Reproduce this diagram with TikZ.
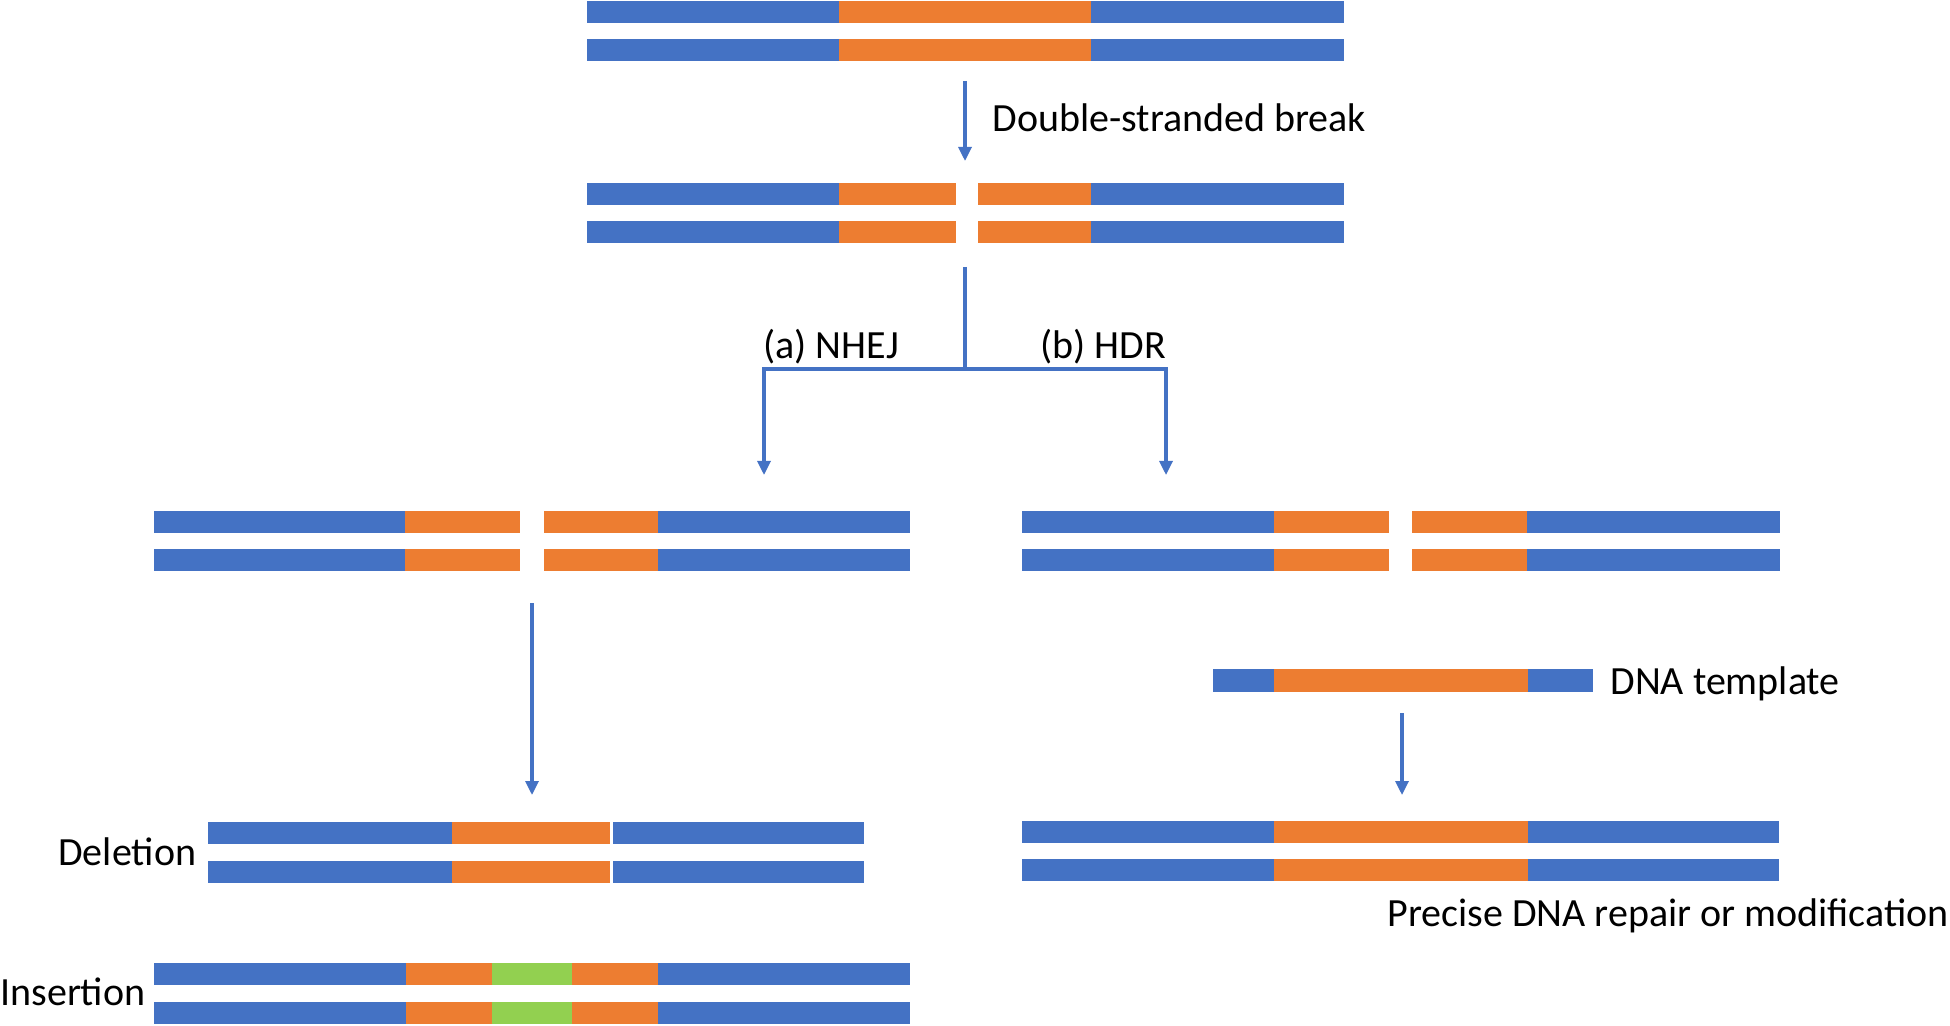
\documentclass[tikz,border=0pt]{standalone}
\usepackage{fontspec}
\setmainfont{Carlito}
\usetikzlibrary{arrows.meta}
\definecolor{dnablue}{HTML}{4472C4}
\definecolor{dnaorange}{HTML}{ED7D31}
\definecolor{dnagreen}{HTML}{92D050}
\tikzset{
  bl/.style={fill=dnablue},
  orng/.style={fill=dnaorange},
  grn/.style={fill=dnagreen},
  conn/.style={draw=dnablue, line width=1.6pt},
  arr/.style={conn, -{Triangle[length=7pt,width=6.5pt]}},
  lbl/.style={anchor=base west, inner sep=0pt, font=\fontsize{20pt}{24pt}\selectfont},
}
\begin{document}
\begin{tikzpicture}[x=0.5pt,y=-0.5pt]
\useasboundingbox (0,0) rectangle (1950,1026);
% row 1: intact DNA
\foreach \y in {1,39} {
  \fill[bl] (587,\y) rectangle (839,\y+22);
  \fill[orng] (839,\y) rectangle (1091,\y+22);
  \fill[bl] (1091,\y) rectangle (1344,\y+22);
}
% row 2: double-stranded break
\foreach \y in {183,221} {
  \fill[bl] (587,\y) rectangle (839,\y+22);
  \fill[orng] (839,\y) rectangle (956,\y+22);
  \fill[orng] (978,\y) rectangle (1091,\y+22);
  \fill[bl] (1091,\y) rectangle (1344,\y+22);
}
% row 3 left and right
\foreach \y in {511,549} {
  \fill[bl] (154,\y) rectangle (405,\y+22);
  \fill[orng] (405,\y) rectangle (520,\y+22);
  \fill[orng] (544,\y) rectangle (658,\y+22);
  \fill[bl] (658,\y) rectangle (910,\y+22);
  \fill[bl] (1022,\y) rectangle (1274,\y+22);
  \fill[orng] (1274,\y) rectangle (1389,\y+22);
  \fill[orng] (1412,\y) rectangle (1527,\y+22);
  \fill[bl] (1527,\y) rectangle (1780,\y+22);
}
% deletion
\foreach \y in {822,861} {
  \fill[bl] (208,\y) rectangle (452,\y+22);
  \fill[orng] (452,\y) rectangle (610,\y+22);
  \fill[bl] (613,\y) rectangle (864,\y+22);
}
% insertion
\foreach \y in {963,1002} {
  \fill[bl] (154,\y) rectangle (406,\y+22);
  \fill[orng] (406,\y) rectangle (492,\y+22);
  \fill[grn] (492,\y) rectangle (572,\y+22);
  \fill[orng] (572,\y) rectangle (658,\y+22);
  \fill[bl] (658,\y) rectangle (910,\y+22);
}
% template
\fill[bl] (1213,669) rectangle (1274,692);
\fill[orng] (1274,669) rectangle (1528,692);
\fill[bl] (1528,669) rectangle (1593,692);
% repaired
\foreach \y in {821,859} {
  \fill[bl] (1022,\y) rectangle (1274,\y+22);
  \fill[orng] (1274,\y) rectangle (1528,\y+22);
  \fill[bl] (1528,\y) rectangle (1779,\y+22);
}
% connector coordinates
\coordinate (a1s) at (965,81);
\coordinate (a1e) at (965,161);
\coordinate (stem) at (965,267);
\coordinate (junc) at (965,369);
\coordinate (nhej) at (764,475);
\coordinate (hdr) at (1166,475);
\coordinate (a3s) at (532,603);
\coordinate (a3e) at (532,795);
\coordinate (a4s) at (1402,713);
\coordinate (a4e) at (1402,795);
\draw[arr] (a1s) -- (a1e);
\draw[conn] (stem) -- (junc);
\draw[arr] (junc) -| (nhej);
\draw[arr] (junc) -| (hdr);
\draw[arr] (a3s) -- (a3e);
\draw[arr] (a4s) -- (a4e);
% labels
\node[lbl] (tdsb) at (992,132) {Double-stranded break};
\node[lbl] (tnhej) at (763,359) {(a) NHEJ};
\node[lbl] (thdr) at (1040,359) {(b) HDR};
\node[lbl] (tdel) at (58,865) {Deletion};
\node[lbl] (tins) at (0,1005) {Insertion};
\node[lbl] (ttpl) at (1610,694) {DNA template};
\node[lbl] (tprec) at (1387,926) {Precise DNA repair or modification};
\end{tikzpicture}
\end{document}
